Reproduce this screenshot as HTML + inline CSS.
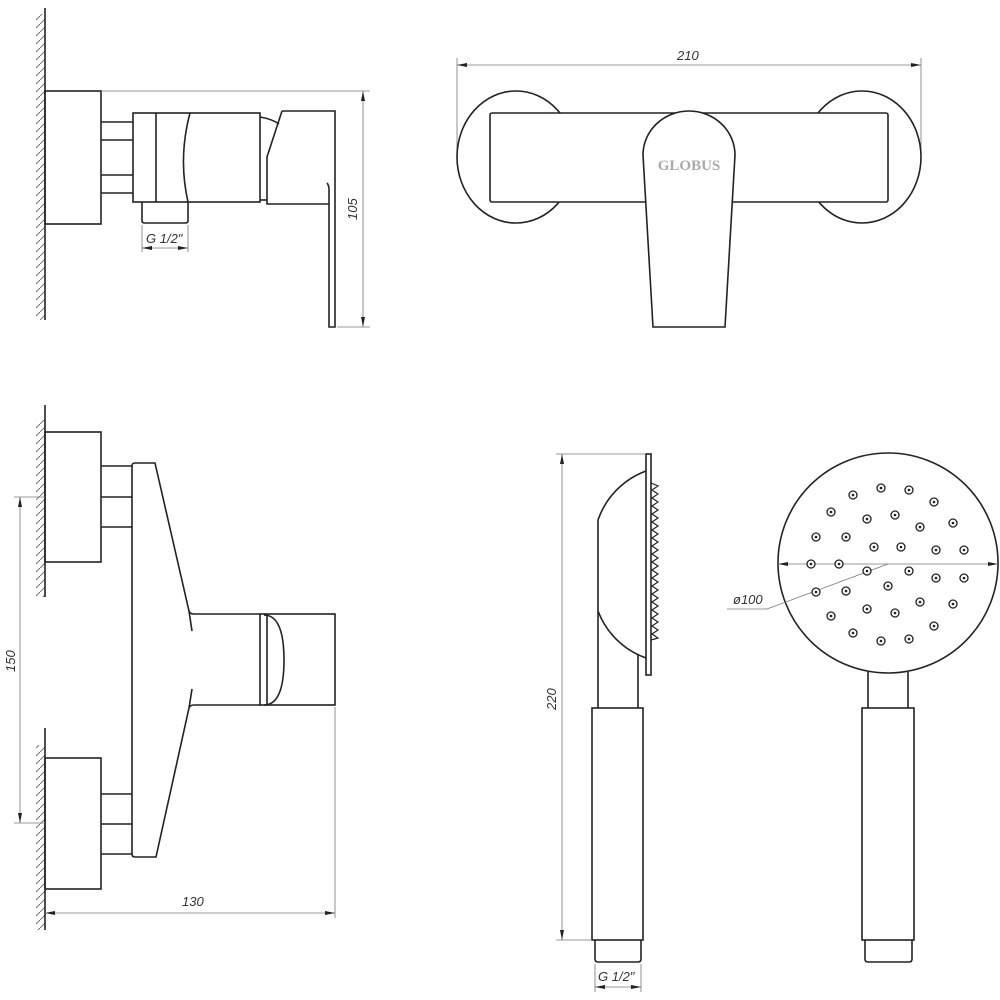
<!DOCTYPE html>
<html><head><meta charset="utf-8"><style>
html,body{margin:0;padding:0;background:#fff}
svg{display:block}
text{font-family:"Liberation Sans",sans-serif;font-style:italic;fill:#333}
</style></head><body>
<svg width="1000" height="1000" viewBox="0 0 1000 1000" xmlns="http://www.w3.org/2000/svg">
<defs>
<pattern id="h" width="8" height="8" patternUnits="userSpaceOnUse">
<line x1="10" y1="-2" x2="-2" y2="10" stroke="#666" stroke-width="0.9"/>
</pattern>
<marker id="a" viewBox="0 0 10 4" refX="10" refY="2" markerWidth="10" markerHeight="4" orient="auto-start-reverse" markerUnits="userSpaceOnUse"><path d="M0,0 L10,2 L0,4z" fill="#222"/></marker>
</defs>
<g fill="none" stroke="#222" stroke-width="1.6">
<!-- TOP LEFT -->
<rect x="36" y="14" width="9" height="306" fill="url(#h)" stroke="none"/>
<line x1="45" y1="8" x2="45" y2="320"/>
<rect x="45" y="91" width="56" height="133"/>
<line x1="101" y1="122" x2="133" y2="122"/><line x1="101" y1="140" x2="133" y2="140"/>
<line x1="101" y1="175" x2="133" y2="175"/><line x1="101" y1="193" x2="133" y2="193"/>
<rect x="133" y="113" width="127" height="89"/>
<line x1="156" y1="113" x2="156" y2="202"/>
<path d="M190,113 Q178,158 188,202"/>
<path d="M142,202 V221 Q142,223 145,223 H185 Q188,223 188,221 V202"/>
<path d="M260,117 Q272,119 279,124"/>
<line x1="260" y1="200" x2="267" y2="200"/>
<path d="M282,111 H335 V327 H329 V190 Q329,185 327,183 M329,204 H267 V157 L282,111"/>
</g>
<g fill="none" stroke="#777" stroke-width="0.8">
<line x1="101" y1="91" x2="370" y2="91"/><line x1="337" y1="327" x2="370" y2="327"/>
<line x1="363" y1="91" x2="363" y2="327" marker-start="url(#a)" marker-end="url(#a)"/>
<line x1="142" y1="225" x2="142" y2="252"/><line x1="188" y1="225" x2="188" y2="252"/>
<line x1="142" y1="248" x2="188" y2="248" marker-start="url(#a)" marker-end="url(#a)"/>
</g>
<text x="146" y="243" font-size="13">G 1/2"</text>
<text transform="translate(357,220) rotate(-90)" font-size="13">105</text>

<!-- TOP RIGHT -->
<g fill="none" stroke="#777" stroke-width="0.8">
<line x1="457" y1="58" x2="457" y2="160"/><line x1="921" y1="58" x2="921" y2="160"/>
<line x1="457" y1="65" x2="921" y2="65" marker-start="url(#a)" marker-end="url(#a)"/>
</g>
<text x="677" y="60" font-size="13">210</text>
<g stroke="#222" stroke-width="1.6">
<ellipse cx="516" cy="157" rx="59" ry="66" fill="none"/>
<ellipse cx="862" cy="157" rx="59" ry="66" fill="none"/>
<rect x="490" y="113" width="398" height="89" rx="2" fill="#fff"/>
<path d="M653,327 L643,155 A46,44 0 0,1 735,155 L725,327 Z" fill="#fff"/>
</g>
<text x="689" y="170" font-size="15" text-anchor="middle" style="font-family:'Liberation Serif',serif;font-style:normal;fill:#aaa;font-weight:bold">GLOBUS</text>

<!-- BOTTOM LEFT -->
<g fill="none" stroke="#222" stroke-width="1.6">
<rect x="36" y="420" width="9" height="177" fill="url(#h)" stroke="none"/>
<rect x="36" y="745" width="9" height="185" fill="url(#h)" stroke="none"/>
<line x1="45" y1="405" x2="45" y2="597"/><line x1="45" y1="728" x2="45" y2="930"/>
<rect x="45" y="432" width="56" height="130"/>
<rect x="45" y="758" width="56" height="131"/>
<line x1="101" y1="466" x2="132" y2="466"/><line x1="101" y1="497" x2="132" y2="497"/><line x1="101" y1="527" x2="132" y2="527"/>
<line x1="101" y1="794" x2="132" y2="794"/><line x1="101" y1="824" x2="132" y2="824"/><line x1="101" y1="854" x2="132" y2="854"/>
<path d="M260,614 H194 Q190,614 189,611 L155,463 H135 Q132,463 132,466 V854 Q132,857 135,857 H156 L189,708 Q190,705 194,705 H260"/>
<path d="M189,611 L192,631 M192,689 L189,708"/>
<rect x="260" y="614" width="75" height="91"/>
<line x1="267" y1="614" x2="267" y2="705"/>
<path d="M264,615 Q284,615 284,660 Q284,705 264,705"/>
</g>
<g fill="none" stroke="#777" stroke-width="0.8">
<line x1="14" y1="497" x2="45" y2="497"/><line x1="14" y1="823" x2="45" y2="823"/>
<line x1="20" y1="497" x2="20" y2="823" marker-start="url(#a)" marker-end="url(#a)"/>
<line x1="335" y1="707" x2="335" y2="918"/>
<line x1="45" y1="913" x2="335" y2="913" marker-start="url(#a)" marker-end="url(#a)"/>
</g>
<text transform="translate(15,672) rotate(-90)" font-size="13">150</text>
<text x="182" y="906" font-size="13">130</text>

<!-- SHOWER SIDE -->
<g fill="none" stroke="#222" stroke-width="1.6">
<rect x="646" y="454" width="5" height="221"/>
<polyline points="651,483 658,486 652,490 658,494 652,498 658,502 652,506 658,510 652,514 658,518 652,522 658,526 652,530 658,534 652,538 658,542 652,546 658,550 652,554 658,558 652,562 658,566 652,570 658,574 652,578 658,582 652,586 658,590 652,594 658,598 652,602 658,606 652,610 658,614 652,618 658,622 652,626 658,630 652,634 658,638 651,640" stroke-width="1.2"/>
<path d="M646,471 A80,80 0 0,0 598,520 V611 A80,80 0 0,0 646,658"/>
<line x1="598" y1="611" x2="598" y2="708"/><line x1="638" y1="654" x2="638" y2="708"/>
<rect x="592" y="708" width="51" height="232"/>
<path d="M595,940 V959 Q595,962 598,962 H638 Q641,962 641,959 V940"/>
</g>
<g fill="none" stroke="#777" stroke-width="0.8">
<line x1="556" y1="454" x2="646" y2="454"/><line x1="556" y1="940" x2="592" y2="940"/>
<line x1="562" y1="454" x2="562" y2="940" marker-start="url(#a)" marker-end="url(#a)"/>
<line x1="595" y1="964" x2="595" y2="992"/><line x1="641" y1="964" x2="641" y2="992"/>
<line x1="595" y1="987" x2="641" y2="987" marker-start="url(#a)" marker-end="url(#a)"/>
</g>
<text transform="translate(556,710) rotate(-90)" font-size="13">220</text>
<text x="598" y="981" font-size="13">G 1/2"</text>

<!-- SHOWER FRONT -->
<g fill="none" stroke="#222" stroke-width="1.6">
<circle cx="888" cy="563" r="110"/>
<path d="M868,672 V708 M908,672 V708"/>
<rect x="862" y="708" width="52" height="232"/>
<path d="M865,940 V959 Q865,962 868,962 H909 Q912,962 912,959 V940"/>
</g>
<g fill="none" stroke="#777" stroke-width="0.8">
<line x1="778" y1="564" x2="998" y2="564" marker-start="url(#a)" marker-end="url(#a)"/>
<polyline points="888,564 767,609 727,609"/>
</g>
<text x="733" y="604" font-size="13">ø100</text>
<g fill="#fff" stroke="#222" stroke-width="1.3">
<circle cx="853" cy="495" r="4"/><circle cx="881" cy="488" r="4"/><circle cx="909" cy="490" r="4"/><circle cx="934" cy="502" r="4"/>
<circle cx="831" cy="512" r="4"/><circle cx="867" cy="519" r="4"/><circle cx="895" cy="515" r="4"/><circle cx="920" cy="527" r="4"/><circle cx="953" cy="523" r="4"/>
<circle cx="816" cy="537" r="4"/><circle cx="846" cy="537" r="4"/><circle cx="874" cy="547" r="4"/><circle cx="901" cy="547" r="4"/><circle cx="936" cy="550" r="4"/><circle cx="964" cy="550" r="4"/>
<circle cx="811" cy="564" r="4"/><circle cx="839" cy="564" r="4"/><circle cx="867" cy="571" r="4"/><circle cx="909" cy="571" r="4"/><circle cx="936" cy="578" r="4"/><circle cx="964" cy="578" r="4"/>
<circle cx="888" cy="586" r="4"/><circle cx="816" cy="592" r="4"/><circle cx="846" cy="591" r="4"/><circle cx="920" cy="602" r="4"/><circle cx="953" cy="604" r="4"/>
<circle cx="831" cy="616" r="4"/><circle cx="867" cy="609" r="4"/><circle cx="895" cy="613" r="4"/><circle cx="934" cy="626" r="4"/>
<circle cx="853" cy="633" r="4"/><circle cx="881" cy="641" r="4"/><circle cx="909" cy="639" r="4"/>
</g>
<g fill="#222">
<circle cx="853" cy="495" r="1.3"/><circle cx="881" cy="488" r="1.3"/><circle cx="909" cy="490" r="1.3"/><circle cx="934" cy="502" r="1.3"/>
<circle cx="831" cy="512" r="1.3"/><circle cx="867" cy="519" r="1.3"/><circle cx="895" cy="515" r="1.3"/><circle cx="920" cy="527" r="1.3"/><circle cx="953" cy="523" r="1.3"/>
<circle cx="816" cy="537" r="1.3"/><circle cx="846" cy="537" r="1.3"/><circle cx="874" cy="547" r="1.3"/><circle cx="901" cy="547" r="1.3"/><circle cx="936" cy="550" r="1.3"/><circle cx="964" cy="550" r="1.3"/>
<circle cx="811" cy="564" r="1.3"/><circle cx="839" cy="564" r="1.3"/><circle cx="867" cy="571" r="1.3"/><circle cx="909" cy="571" r="1.3"/><circle cx="936" cy="578" r="1.3"/><circle cx="964" cy="578" r="1.3"/>
<circle cx="888" cy="586" r="1.3"/><circle cx="816" cy="592" r="1.3"/><circle cx="846" cy="591" r="1.3"/><circle cx="920" cy="602" r="1.3"/><circle cx="953" cy="604" r="1.3"/>
<circle cx="831" cy="616" r="1.3"/><circle cx="867" cy="609" r="1.3"/><circle cx="895" cy="613" r="1.3"/><circle cx="934" cy="626" r="1.3"/>
<circle cx="853" cy="633" r="1.3"/><circle cx="881" cy="641" r="1.3"/><circle cx="909" cy="639" r="1.3"/>
</g>
</svg>
</body></html>
